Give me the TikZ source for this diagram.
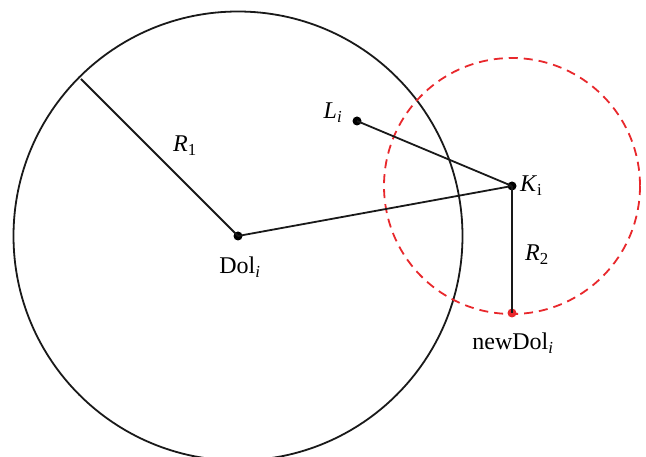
\documentclass[tikz,border=0pt]{standalone}
\usepackage{fontspec}
\setmainfont{Liberation Serif}
\usetikzlibrary{positioning}
\definecolor{movered}{HTML}{E8282C}
\tikzset{dot/.style={circle,fill=black,inner sep=0pt,minimum size=9pt}, rdot/.style={dot,fill=movered}, lbl/.style={inner sep=0pt,font=\fontsize{24}{28}\selectfont}, edge/.style={line width=1.8pt,draw=black!90}, zone/.style={line width=1.8pt,draw=movered,dash pattern=on 9pt off 6pt}}
\begin{document}
\begin{tikzpicture}[x=1pt,y=-1pt]
\useasboundingbox (0,0) rectangle (646,457);
\clip (0,0) rectangle (646,457);
\draw[edge] (238,236) circle[radius=224.5];
\draw[zone] (512,186) circle[radius=128];
\node[dot] (dol) at (238,236) {};
\node[dot] (ki) at (512,186) {};
\node[dot] (li) at (357,121) {};
\node[rdot] (newdol) at (512,313) {};
\coordinate (rim) at (81,79);
\draw[edge] (dol.center)--(rim);\draw[edge] (dol.center)--(ki.center);\draw[edge] (li.center)--(ki.center);\draw[edge] (ki.center)--(newdol.center);
\node[lbl] (rone) at (185,146) {\textit{R}\textsubscript{1}};
\node[lbl] (dollbl) at (240,267) {Dol\textsubscript{\textit{i}}};
\node[lbl] (lilbl) at (333,113) {\textit{L}\textsubscript{\textit{i}}};
\node[lbl,anchor=west] (kilbl) at (520,186) {\textit{K}\textsubscript{i}};
\node[lbl] (rtwo) at (537,255) {\textit{R}\textsubscript{2}};
\node[lbl] (newlbl) at (513,343) {newDol\textsubscript{\textit{i}}};
\end{tikzpicture}
\end{document}
